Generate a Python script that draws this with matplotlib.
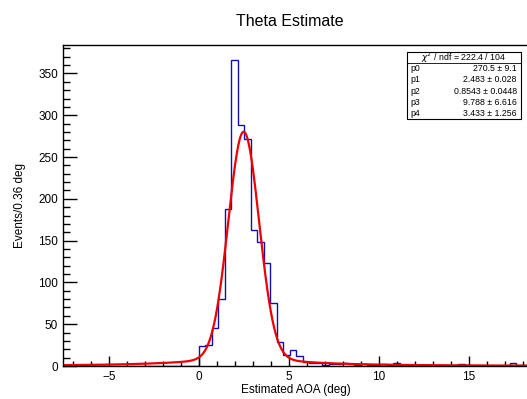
import matplotlib
matplotlib.use("Agg")
import matplotlib.pyplot as plt
from matplotlib.ticker import MultipleLocator
import numpy as np

plt.rcParams["font.family"] = ["Liberation Sans", "DejaVu Sans"]

# histogram: 72 bins of 0.36 deg starting at -7.56 deg
bin_width = 0.36
x_low = -7.56
n_bins = 72
# counts for the 21 bins below zero are empty
counts_neg = [0] * 21
counts_pos = [24, 25, 46, 80, 188, 366, 288, 272, 163, 148, 123, 75, 29, 13, 19, 12,
              5, 4, 4, 1, 2, 2, 3, 2, 1, 2, 1, 1, 2, 1, 4, 1, 1, 1, 0, 0,
              0, 1, 1, 1, 2, 1, 0, 0, 0, 0, 0, 0, 3, 1, 1]
counts = np.array(counts_neg + counts_pos)

# fit parameters shown in the stats box
par_names = ["p0", "p1", "p2", "p3", "p4"]
par_vals = [270.5, 2.483, 0.8543, 9.788, 3.433]
par_errs = ["9.1", "0.028", "0.0448", "6.616", "1.256"]
par_text = ["270.5", "2.483", "0.8543", "9.788", "3.433"]
chi2_text = "222.4 / 104"


def fit_func(x, p):
    # gaussian peak plus a lorentzian tail
    g = p[0] * np.exp(-0.5 * ((x - p[1]) / p[2]) ** 2)
    bw = p[3] * p[4] ** 2 / ((x - p[1]) ** 2 + p[4] ** 2)
    return g + bw


edges = x_low + bin_width * np.arange(n_bins + 1)

fig = plt.figure(figsize=(5.27, 3.99), dpi=100)
ax = fig.add_axes([0.1195, 0.0827, 0.885, 0.8045])

ax.stairs(counts, edges, color="#1010b0", linewidth=1.0)
xf = np.linspace(edges[0], edges[-1], 600)
ax.plot(xf, fit_func(xf, par_vals), color="#ee0000", linewidth=1.6)

ax.set_xlim(edges[0], edges[-1])
ax.set_ylim(0, 384)
ax.xaxis.set_major_locator(MultipleLocator(5))
ax.xaxis.set_minor_locator(MultipleLocator(1))
ax.yaxis.set_major_locator(MultipleLocator(50))
ax.yaxis.set_minor_locator(MultipleLocator(10))
ax.tick_params(which="both", direction="in", top=False, right=False,
               labelsize=8.5, width=1.0)
ax.tick_params(axis="y", which="major", length=10)
ax.tick_params(axis="y", which="minor", length=5)
ax.tick_params(axis="x", which="major", length=7)
ax.tick_params(axis="x", which="minor", length=3.5)
for s in ax.spines.values():
    s.set_linewidth(1.0)

ax.set_xlabel("Estimated AOA (deg)", fontsize=8.5, labelpad=1)
ax.set_ylabel("Events/0.36 deg", fontsize=8.5, labelpad=9, loc="center")
fig.text(0.55, 0.945, "Theta Estimate", ha="center", va="center", fontsize=11.5)

# stats box
bx0, bx1 = 407 / 527, 521 / 527
by1, by0 = 1 - 52 / 399, 1 - 119 / 399
rh = (by1 - by0) / 6
fig.patches.append(plt.Rectangle((bx0, by0), bx1 - bx0, by1 - by0, transform=fig.transFigure,
                                 facecolor="white", edgecolor="black", linewidth=0.8, zorder=5))
fig.lines.append(plt.Line2D([bx0, bx1], [by1 - rh, by1 - rh], transform=fig.transFigure,
                            color="black", linewidth=0.6, zorder=6))
fig.text((bx0 + bx1) / 2, by1 - rh / 2, r"$\chi^2$ / ndf = " + chi2_text,
         ha="center", va="center", fontsize=6.3, zorder=7)
for i, name in enumerate(par_names):
    yc = by1 - rh * (i + 1.5)
    fig.text(bx0 + 0.006, yc, name, ha="left", va="center", fontsize=6.3, zorder=7)
    fig.text(bx1 - 0.008, yc, par_text[i] + " \u00b1 " + par_errs[i],
             ha="right", va="center", fontsize=6.3, zorder=7)

fig.savefig("out.png", dpi=100)
